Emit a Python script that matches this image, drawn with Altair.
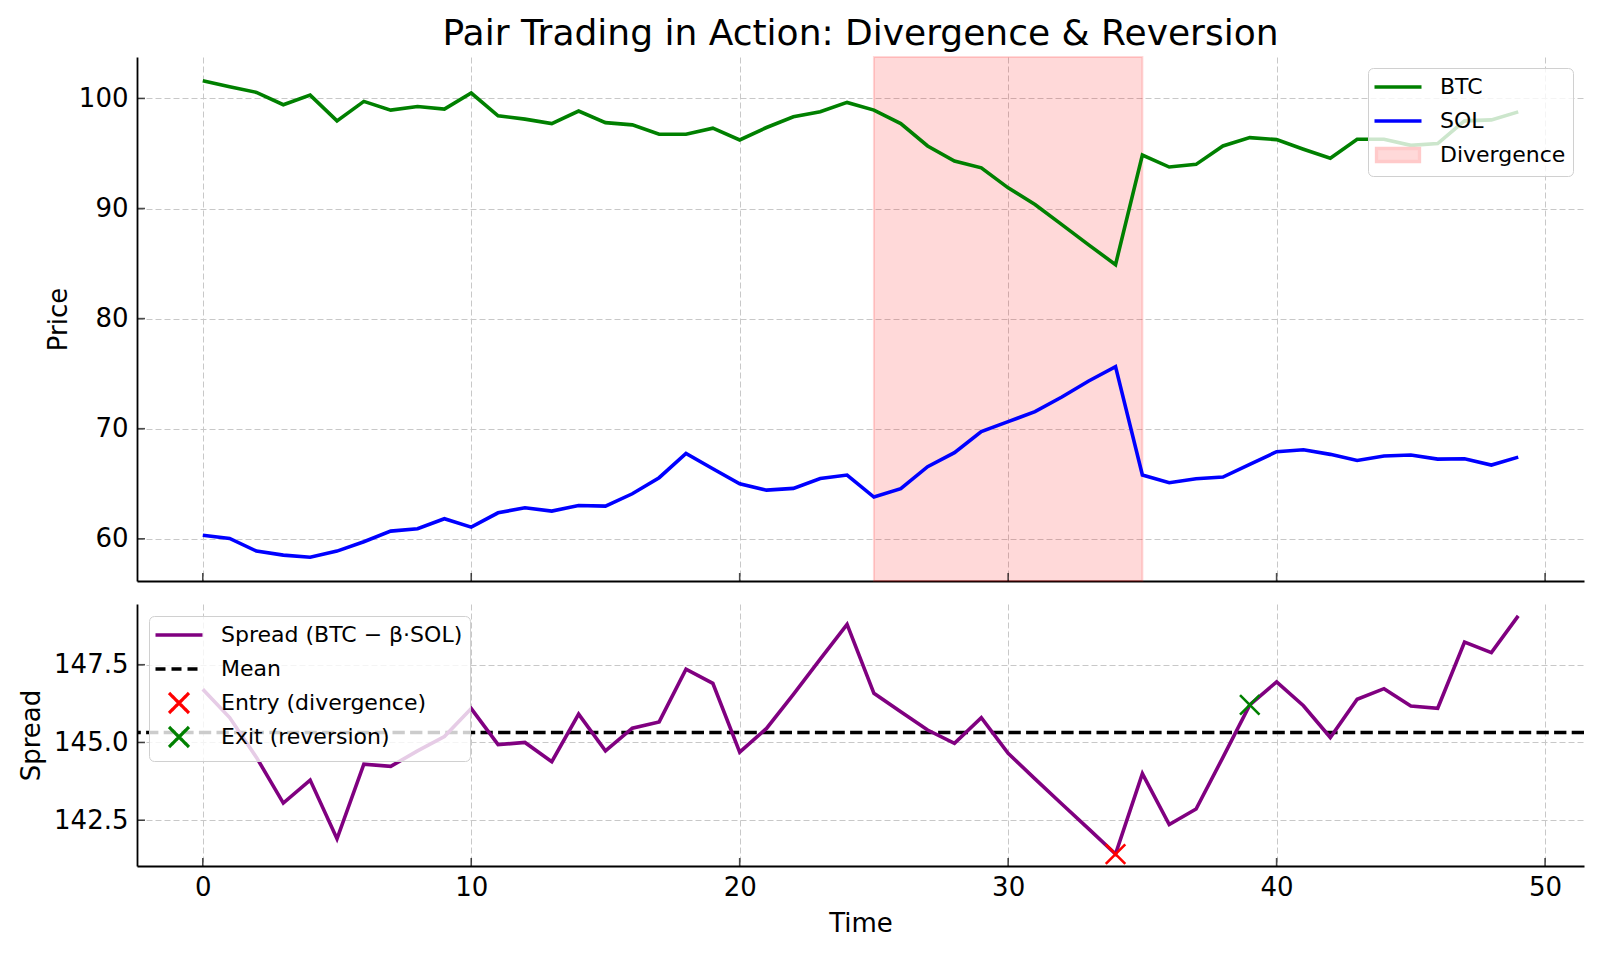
import altair as alt
import pandas as pd

# ---------------- data ----------------
time = list(range(50))
btc = [101.6, 101.07, 100.55, 99.43, 100.3, 97.96, 99.73, 98.94, 99.27, 99.03,
       100.49, 98.42, 98.12, 97.72, 98.85, 97.8, 97.6, 96.75, 96.75, 97.3,
       96.23, 97.36, 98.33, 98.79, 99.64, 98.94, 97.72, 95.68, 94.32, 93.7,
       91.88, 90.36, 88.54, 86.7, 84.9, 94.86, 93.77, 94.01, 95.68, 96.44,
       96.26, 95.38, 94.56, 96.29, 96.29, 95.74, 95.9, 97.96, 98.05, 98.78]
sol = [60.33, 60.03, 58.88, 58.52, 58.33, 58.88, 59.73, 60.70, 60.91, 61.82,
       61.06, 62.36, 62.82, 62.52, 63.03, 62.97, 64.09, 65.55, 67.76, 66.36,
       65.0, 64.42, 64.58, 65.48, 65.79, 63.79, 64.55, 66.55, 67.82, 69.73,
       70.64, 71.55, 72.88, 74.33, 75.64, 65.79, 65.09, 65.45, 65.61, 66.76,
       67.91, 68.09, 67.67, 67.12, 67.52, 67.61, 67.24, 67.27, 66.70, 67.42]
spread = [146.71, 145.80, 144.52, 143.05, 143.79, 141.90, 144.30, 144.23, 144.73, 145.19,
          146.09, 144.93, 145.0, 144.38, 145.91, 144.73, 145.46, 145.66, 147.36, 146.90,
          144.69, 145.45, 146.55, 147.68, 148.80, 146.58, 145.99, 145.40, 144.97, 145.80,
          144.65, 143.83, 143.02, 142.22, 141.41, 144.0, 142.36, 142.86, 144.52, 146.21,
          146.95, 146.18, 145.16, 146.39, 146.73, 146.17, 146.10, 148.23, 147.89, 149.07]
spread_mean = 145.32
div_start, div_end = 25, 35
entry_idx, exit_idx = 34, 39

time_ticks = [0, 10, 20, 30, 40, 50]
price_ticks = [60, 70, 80, 90, 100]
spread_ticks = [142.5, 145.0, 147.5]

top_labels = ["BTC", "SOL", "Divergence"]
bottom_labels = ["Spread (BTC \u2212 \u03b2\u00b7SOL)", "Mean", "Entry (divergence)", "Exit (reversion)"]

# ---------------- styling ----------------
FONT = "DejaVu Sans"
W, H_TOP, H_BOT = 1447, 524, 262
LINE_W = 3.6
X_PATH = "M-1,-1L1,1M1,-1L-1,1"
LINE_PATH = "M-2.35,0H2.35"
RECT_PATH = "M-2.15,-0.65H2.15V0.65H-2.15Z"

# axis limits with matplotlib-like 5% margins
xmin, xmax = min(time), max(time)
xm = 0.05 * (xmax - xmin)
pmin, pmax = min(sol), max(btc)
pm = 0.05 * (pmax - pmin)
smin, smax = min(spread), max(spread)
sm = 0.05 * (smax - smin)

x_scale = alt.Scale(domain=[xmin - xm, xmax + xm], nice=False, zero=False)
p_scale = alt.Scale(domain=[pmin - pm, pmax + pm], nice=False, zero=False)
s_scale = alt.Scale(domain=[smin - sm, smax + sm], nice=False, zero=False)

x_axis_top = alt.Axis(values=time_ticks, labels=False, ticks=False, tickSize=0, title=None)
x_axis_bot = alt.Axis(values=time_ticks, ticks=False, tickSize=0, title="Time",
                      labelPadding=8, titlePadding=10)
p_axis = alt.Axis(values=price_ticks, ticks=False, tickSize=0, title="Price",
                  labelPadding=9, titlePadding=7)
s_axis = alt.Axis(values=spread_ticks, ticks=False, tickSize=0, title="Spread", format=".1f",
                  labelPadding=9, titlePadding=9)

def legend(orient, row_pad, offset):
    return alt.Legend(title=None, orient=orient, offset=offset, labelFont=FONT, labelFontSize=22,
                      labelColor="black", symbolSize=400, symbolStrokeWidth=3.3,
                      symbolOpacity=1, symbolOffset=11, labelOffset=30, padding=7,
                      rowPadding=row_pad, gridAlign="all",
                      fillColor="rgba(255,255,255,0.8)", strokeColor="#d0d0d0",
                      cornerRadius=5, labelLimit=500)

prices = pd.DataFrame({"t": time, "BTC": btc, "SOL": sol})
spread_df = pd.DataFrame({"t": time, "spread": spread})

# ---------------- top panel ----------------
span = alt.Chart(pd.DataFrame({"a": [div_start], "b": [div_end]})).mark_rect(
    fill="red", fillOpacity=0.15, stroke="red", strokeOpacity=0.15, strokeWidth=2
).encode(
    x=alt.X("a:Q", scale=x_scale, axis=x_axis_top), x2="b:Q",
    y=alt.value(0), y2=alt.value(H_TOP)
)

btc_line = alt.Chart(prices).mark_line(color="green", strokeWidth=LINE_W).encode(
    x=alt.X("t:Q", scale=x_scale, axis=x_axis_top),
    y=alt.Y("BTC:Q", scale=p_scale, axis=p_axis)
)
sol_line = alt.Chart(prices).mark_line(color="blue", strokeWidth=LINE_W).encode(
    x=alt.X("t:Q", scale=x_scale, axis=x_axis_top),
    y=alt.Y("SOL:Q", scale=p_scale, axis=p_axis)
)

ytick_top = alt.Chart(pd.DataFrame({"v": price_ticks})).mark_tick(
    orient="horizontal", size=8, thickness=1.6, color="black"
).encode(y=alt.Y("v:Q", scale=p_scale, axis=p_axis), x=alt.value(4))
xtick_top = alt.Chart(pd.DataFrame({"v": time_ticks})).mark_tick(
    orient="vertical", size=8, thickness=1.6, color="black"
).encode(x=alt.X("v:Q", scale=x_scale, axis=x_axis_top), y=alt.value(H_TOP - 4))

leg_top = legend("top-right", 6, 11)
top_key = alt.Chart(pd.DataFrame({"series": top_labels})).mark_point(
    opacity=0, filled=True, size=400
).encode(
    shape=alt.Shape("series:N", scale=alt.Scale(domain=top_labels, range=[LINE_PATH, LINE_PATH, RECT_PATH]), legend=leg_top),
    fill=alt.Fill("series:N", scale=alt.Scale(domain=top_labels, range=["green", "blue", "#ffd9d9"]), legend=leg_top),
    stroke=alt.Stroke("series:N", scale=alt.Scale(domain=top_labels, range=["green", "blue", "#ffcaca"]), legend=leg_top),
)

top = alt.layer(span, btc_line, sol_line, ytick_top, xtick_top, top_key).properties(
    width=W, height=H_TOP,
    title=alt.TitleParams("Pair Trading in Action: Divergence & Reversion", font=FONT,
                          fontSize=36, fontWeight="normal", color="black",
                          anchor="middle", frame="group", offset=3)
)

# ---------------- bottom panel ----------------
spread_line = alt.Chart(spread_df).mark_line(color="purple", strokeWidth=LINE_W).encode(
    x=alt.X("t:Q", scale=x_scale, axis=x_axis_bot),
    y=alt.Y("spread:Q", scale=s_scale, axis=s_axis)
)
mean_line = alt.Chart(pd.DataFrame({"m": [spread_mean]})).mark_rule(
    color="black", strokeWidth=3.3, strokeDash=[12.3, 5.3]
).encode(y=alt.Y("m:Q", scale=s_scale, axis=s_axis))

marks = pd.DataFrame({"t": [time[entry_idx], time[exit_idx]],
                      "s": [spread[entry_idx], spread[exit_idx]],
                      "kind": ["entry", "exit"]})
entry_pt = alt.Chart(marks[marks.kind == "entry"]).mark_point(
    shape=X_PATH, size=380, strokeWidth=2.6, color="red", filled=False, opacity=1
).encode(x=alt.X("t:Q", scale=x_scale, axis=x_axis_bot), y=alt.Y("s:Q", scale=s_scale, axis=s_axis))
exit_pt = alt.Chart(marks[marks.kind == "exit"]).mark_point(
    shape=X_PATH, size=380, strokeWidth=2.6, color="green", filled=False, opacity=1
).encode(x=alt.X("t:Q", scale=x_scale, axis=x_axis_bot), y=alt.Y("s:Q", scale=s_scale, axis=s_axis))

ytick_bot = alt.Chart(pd.DataFrame({"v": spread_ticks})).mark_tick(
    orient="horizontal", size=8, thickness=1.6, color="black"
).encode(y=alt.Y("v:Q", scale=s_scale, axis=s_axis), x=alt.value(4))
xtick_bot = alt.Chart(pd.DataFrame({"v": time_ticks})).mark_tick(
    orient="vertical", size=8, thickness=1.6, color="black"
).encode(x=alt.X("v:Q", scale=x_scale, axis=x_axis_bot), y=alt.value(H_BOT - 4))

leg_bot = legend("top-left", 0, 12)
bot_key = alt.Chart(pd.DataFrame({"series": bottom_labels})).mark_point(
    opacity=0, filled=False, size=400
).encode(
    shape=alt.Shape("series:N", scale=alt.Scale(domain=bottom_labels, range=[LINE_PATH, LINE_PATH, X_PATH, X_PATH]), legend=leg_bot),
    stroke=alt.Stroke("series:N", scale=alt.Scale(domain=bottom_labels, range=["purple", "black", "red", "green"]), legend=leg_bot),
    strokeDash=alt.StrokeDash("series:N", scale=alt.Scale(domain=bottom_labels, range=[[1, 0], [10, 6], [1, 0], [1, 0]]), legend=leg_bot),
)

bottom = alt.layer(mean_line, spread_line, entry_pt, exit_pt, ytick_bot, xtick_bot, bot_key).properties(
    width=W, height=H_BOT
)

chart = alt.vconcat(top, bottom, spacing=22).resolve_scale(
    shape="independent", fill="independent", stroke="independent", strokeDash="independent"
).resolve_legend(
    shape="independent", fill="independent", stroke="independent", strokeDash="independent"
).properties(
    padding={"left": 18, "top": 16, "right": 10, "bottom": 10}
).configure_view(strokeWidth=0).configure_axis(
    grid=True, gridColor="#c8c8c8", gridDash=[6, 3], gridWidth=1,
    domainColor="black", domainWidth=1.8,
    labelFont=FONT, labelFontSize=26, labelColor="black",
    titleFont=FONT, titleFontSize=26, titleFontWeight="normal", titleColor="black"
)

chart.save("out.html", embed_options={"renderer": "svg", "actions": False})
